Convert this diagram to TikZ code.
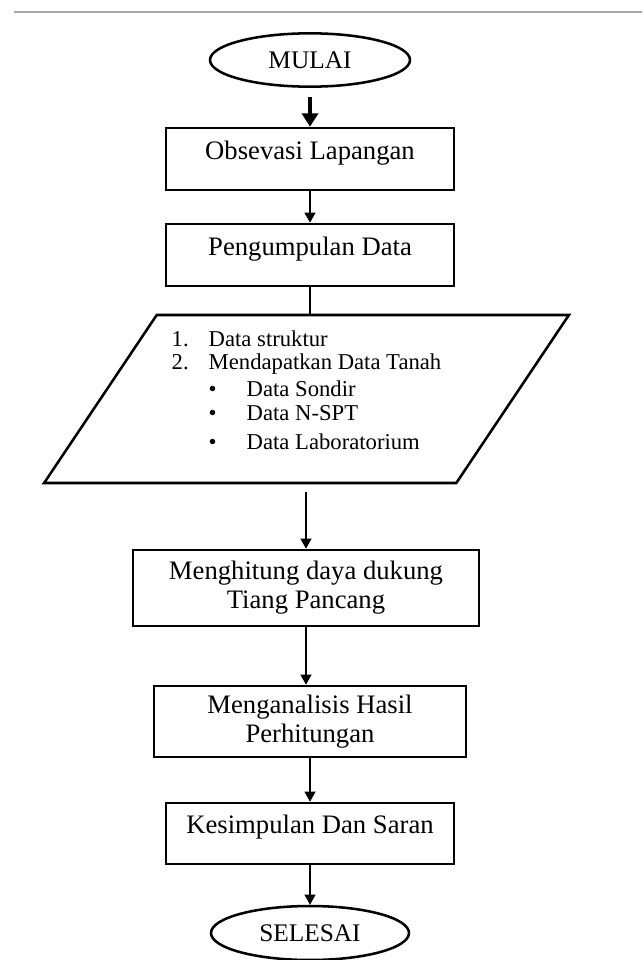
\documentclass[tikz,border=0pt]{standalone}
\usepackage{fontspec}
\setmainfont{Liberation Serif}
\usetikzlibrary{shapes.geometric,arrows.meta}

\begin{document}
\begin{tikzpicture}[x=0.75pt,y=-0.75pt,
    kotak/.style={draw,line width=1.9pt,minimum width=216pt,align=center,inner sep=0pt,font=\fontsize{20}{21.75}\selectfont},
    atas/.style={text height=13pt,text depth=13pt},
    oval/.style={draw,ellipse,line width=1.9pt,inner sep=0pt,minimum width=150pt,font=\fontsize{19}{20}\selectfont},
    panah/.style={-{Triangle[length=7.5pt,width=8pt]},line width=1.5pt}]
    \useasboundingbox (0,0) rectangle (642,960);
    \draw[black!35,line width=1.5pt] (14,12)--(642,12);
    \node[oval,minimum height=40pt] (mulai) at (310,60) {MULAI};
    \node[kotak,atas,minimum height=46.5pt] (obs) at (310,159) {Obsevasi Lapangan};
    \node[kotak,atas,minimum height=46.5pt] (kumpul) at (310,255) {Pengumpulan Data};
    \node[draw,trapezium,trapezium left angle=58.5,trapezium right angle=121.5,trapezium stretches=true,line width=1.9pt,minimum width=393.75pt,minimum height=126pt,inner sep=0pt,font=\fontsize{17}{17.25}\selectfont] (input) at (306.5,399) {\raisebox{0pt}[62pt][62pt]{\begin{tabular}{@{}l@{}}
        \makebox[27.75pt][l]{1.}Data struktur\\
        \makebox[27.75pt][l]{2.}Mendapatkan Data Tanah\\[3pt]
        \hspace{27.75pt}\makebox[28.5pt][l]{\textbullet}Data Sondir\\[0.75pt]
        \hspace{27.75pt}\makebox[28.5pt][l]{\textbullet}Data N-SPT\\[4.5pt]
        \hspace{27.75pt}\makebox[28.5pt][l]{\textbullet}Data Laboratorium
        \end{tabular}}};
    \node[kotak,minimum width=259.5pt,minimum height=57pt] (hitung) at (306,588) {Menghitung daya dukung\\Tiang Pancang};
    \node[kotak,minimum width=234pt,minimum height=53.25pt] (analisis) at (310,721.5) {Menganalisis Hasil\\Perhitungan};
    \node[kotak,atas,minimum height=45.75pt] (simpul) at (310,833.5) {Kesimpulan Dan Saran};
    \node[oval,minimum width=148.5pt,minimum height=40.5pt] (selesai) at (310,933) {SELESAI};
    \draw[-{Triangle[length=10pt,width=12pt]},line width=2.6pt,shorten <=7pt] (mulai) -- (obs);
    \draw[panah] (obs) -- (kumpul);
    \draw[line width=1.5pt] (kumpul.south) -- (kumpul.south |- input.north);
    \draw[panah,shorten <=6pt] (input.south -| hitung.north) -- (hitung.north);
    \draw[panah] (hitung.south) -- (hitung.south |- analisis.north);
    \draw[panah] (analisis) -- (simpul);
    \draw[panah] (simpul) -- (selesai);
\end{tikzpicture}
\end{document}
